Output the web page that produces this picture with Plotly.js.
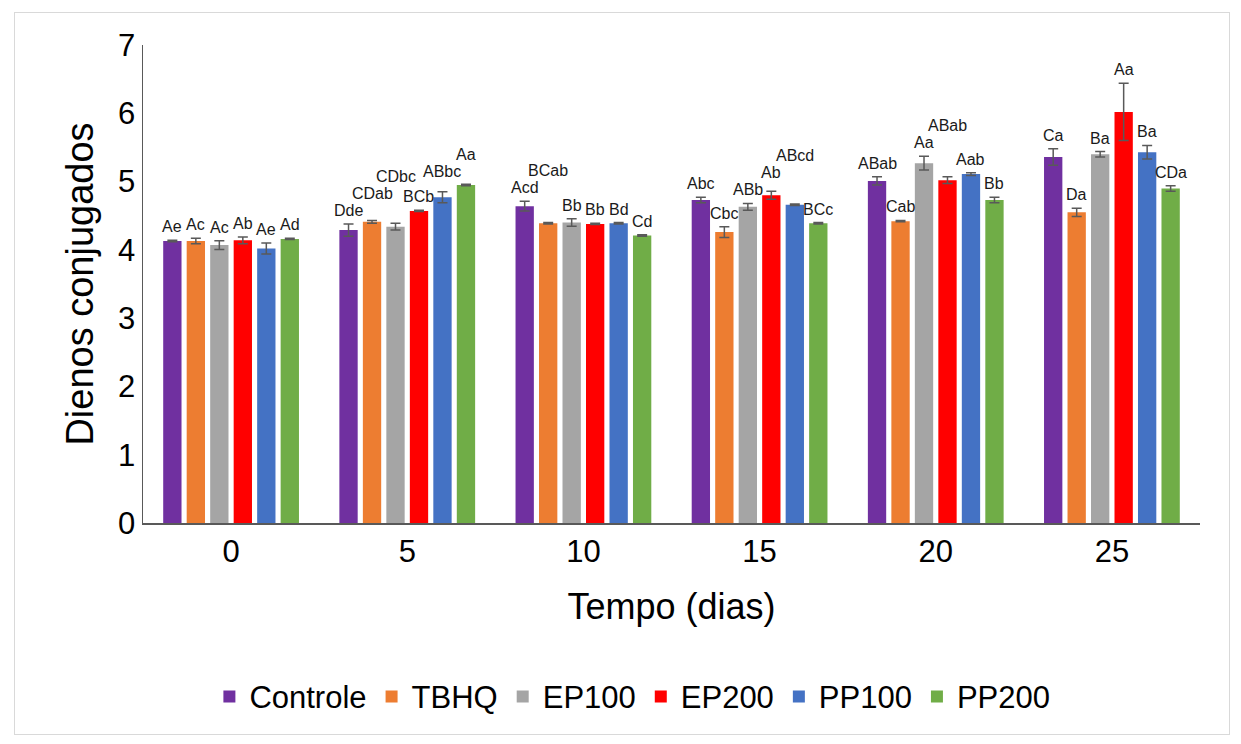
<!DOCTYPE html>
<html>
<head>
<meta charset="utf-8">
<script src="https://cdn.plot.ly/plotly-3.0.1.min.js"></script>
<style>
  html, body { margin: 0; padding: 0; background: #fff; }
  #wrap { position: relative; width: 1241px; height: 744px; }
  #frame { position: absolute; left: 14px; top: 12px; width: 1214px; height: 721px; border: 1px solid #d9d9d9; pointer-events: none; }
  #chart { width: 1241px; height: 744px; }
</style>
</head>
<body>
<div id="wrap">
  <div id="chart"></div>
  <div id="frame"></div>
</div>
<script>
const days = ['0', '5', '10', '15', '20', '25'];
const seriesNames = ['Controle', 'TBHQ', 'EP100', 'EP200', 'PP100', 'PP200'];
const colors = ['#7030A0', '#ED7D31', '#A5A5A5', '#FF0000', '#4472C4', '#70AD47'];

const controle = [4.13, 4.29, 4.64, 4.73, 5.01, 5.36];
const tbhq     = [4.13, 4.41, 4.39, 4.26, 4.42, 4.55];
const ep100    = [4.07, 4.34, 4.40, 4.63, 5.27, 5.40];
const ep200    = [4.14, 4.57, 4.38, 4.80, 5.02, 6.02];
const pp100    = [4.02, 4.77, 4.39, 4.66, 5.11, 5.43];
const pp200    = [4.16, 4.95, 4.21, 4.39, 4.73, 4.90];

const errControle = [0.01, 0.09, 0.07, 0.04, 0.06, 0.12];
const errTbhq     = [0.04, 0.02, 0.01, 0.08, 0.01, 0.06];
const errEp100    = [0.065, 0.05, 0.055, 0.05, 0.10, 0.04];
const errEp200    = [0.05, 0.01, 0.01, 0.06, 0.05, 0.42];
const errPp100    = [0.08, 0.08, 0.01, 0.01, 0.02, 0.10];
const errPp200    = [0.01, 0.01, 0.01, 0.01, 0.04, 0.04];

const lblControle = ['Ae', 'Dde', 'Acd', 'Abc', 'ABab', 'Ca'];
const lblTbhq     = ['Ac', 'CDab', 'BCab', 'Cbc', 'Cab', 'Da'];
const lblEp100    = ['Ac', 'CDbc', 'Bb', 'ABb', 'Aa', 'Ba'];
const lblEp200    = ['Ab', 'BCb', 'Bb', 'Ab', 'ABab', 'Aa'];
const lblPp100    = ['Ae', 'ABbc', 'Bd', 'ABcd', 'Aab', 'Ba'];
const lblPp200    = ['Ad', 'Aa', 'Cd', 'BCc', 'Bb', 'CDa'];

const values = [controle, tbhq, ep100, ep200, pp100, pp200];
const errors = [errControle, errTbhq, errEp100, errEp200, errPp100, errPp200];
const labels = [lblControle, lblTbhq, lblEp100, lblEp200, lblPp100, lblPp200];

const W = 1241, H = 744;
const margin = { l: 143, r: 41, t: 45, b: 221 };
const yMax = 7;
const bargap = 0.2;
const font = 'Arial, "Liberation Sans", sans-serif';
const lblSize = 16;

const traces = seriesNames.map((name, j) => ({
  type: 'bar',
  name: name,
  x: days,
  y: values[j],
  marker: { color: colors[j] },
  error_y: { type: 'data', array: errors[j], visible: true, color: '#595959', thickness: 1.5, width: 5 },
  hoverinfo: 'x+y+name'
}));

// Label placement: above each error bar, staggered upward when they collide
// with neighbouring labels or neighbouring error-bar caps.
const plotW = W - margin.l - margin.r;
const plotH = H - margin.t - margin.b;
const pxPerCat = plotW / days.length;
const pxPerUnit = plotH / yMax;
const n = seriesNames.length;
const slot = (1 - bargap) / n;
const ctx = document.createElement('canvas').getContext('2d');
ctx.font = lblSize + 'px ' + font;
const lblH = lblSize * 1.0;

const annotations = [];
for (let i = 0; i < days.length; i++) {
  const obstacles = [];
  for (let j = 0; j < n; j++) {
    const xc = i + (j - (n - 1) / 2) * slot;
    obstacles.push({ x: xc * pxPerCat, w: 10, b: 0, t: (values[j][i] + errors[j][i]) * pxPerUnit + 2 });
  }
  for (let j = 0; j < n; j++) {
    const xc = i + (j - (n - 1) / 2) * slot;
    const xpx = xc * pxPerCat;
    const w = ctx.measureText(labels[j][i]).width + 2;
    const top = values[j][i] + errors[j][i];
    let bottom = top * pxPerUnit + 3;
    let moved = true, guard = 0;
    while (moved && guard++ < 100) {
      moved = false;
      for (const p of obstacles) {
        const hOverlap = Math.abs(p.x - xpx) < (p.w + w) / 2;
        const vOverlap = bottom < p.t && bottom + lblH > p.b;
        if (hOverlap && vOverlap) { bottom = p.t; moved = true; }
      }
    }
    obstacles.push({ x: xpx, w: w, b: bottom, t: bottom + lblH + 1 });
    annotations.push({
      x: xc,
      y: top,
      xref: 'x', yref: 'y',
      text: labels[j][i],
      showarrow: false,
      yanchor: 'bottom',
      yshift: bottom - top * pxPerUnit,
      font: { family: font, size: lblSize, color: '#1a1a1a' }
    });
  }
}

const layout = {
  width: W,
  height: H,
  paper_bgcolor: '#ffffff',
  plot_bgcolor: '#ffffff',
  margin: margin,
  barmode: 'group',
  bargap: bargap,
  bargroupgap: 0.22,
  showlegend: true,
  legend: {
    orientation: 'h',
    x: 0.463, xanchor: 'center',
    y: -0.307, yanchor: 'top',
    font: { family: font, size: 31, color: '#000' },
    itemwidth: 30,
    traceorder: 'normal'
  },
  xaxis: {
    type: 'category',
    showline: true,
    linecolor: '#595959',
    linewidth: 1.5,
    ticks: '',
    showgrid: false,
    zeroline: false,
    tickfont: { family: font, size: 31, color: '#000' },
    title: { text: 'Tempo (dias)', font: { family: font, size: 36, color: '#000' }, standoff: 26 }
  },
  yaxis: {
    range: [0, yMax],
    dtick: 1,
    showline: true,
    linecolor: '#595959',
    linewidth: 1.5,
    ticks: '',
    showgrid: false,
    zeroline: false,
    tickfont: { family: font, size: 31, color: '#000' },
    title: { text: 'Dienos conjugados', font: { family: font, size: 38, color: '#000' }, standoff: 12 }
  },
  annotations: annotations
};

Plotly.newPlot('chart', traces, layout, { displayModeBar: false, staticPlot: true });
</script>
</body>
</html>
